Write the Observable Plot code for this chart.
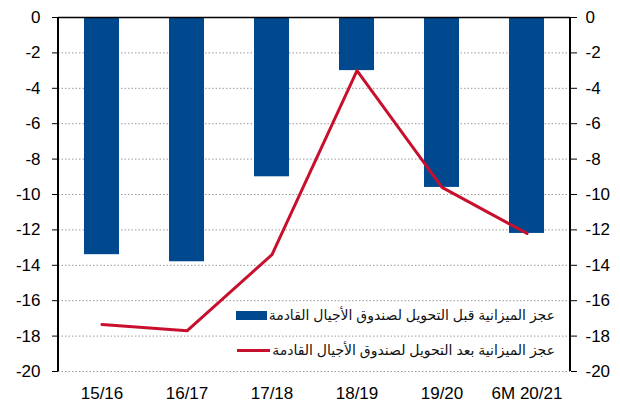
<!DOCTYPE html>
<html><head><meta charset="utf-8">
<script src="https://cdn.jsdelivr.net/npm/d3@7"></script>
<script src="https://cdn.jsdelivr.net/npm/@observablehq/plot@0.6"></script>
<style>
body{margin:0;background:#fff;font-family:"Liberation Sans",Arial,sans-serif;}
#wrap{position:relative;width:620px;height:405px;}
.leg{position:absolute;direction:rtl;font-size:14px;color:#111;white-space:nowrap;display:flex;align-items:center;font-family:"Liberation Sans","DejaVu Sans",sans-serif;}
.leg .sw{display:inline-block;margin-right:2px;}
</style></head>
<body><div id="wrap"></div>
<script>
const categories = ["15/16","16/17","17/18","18/19","19/20","6M 20/21"];
const beforeTransfer = [-13.4,-13.8,-9.0,-3.0,-9.6,-12.2];
const afterTransfer = [-17.35,-17.7,-13.4,-3.0,-9.6,-12.2];
const yTicks = [0,-2,-4,-6,-8,-10,-12,-14,-16,-18,-20];
const legendLabels = ["عجز الميزانية قبل التحويل لصندوق الأجيال القادمة","عجز الميزانية بعد التحويل لصندوق الأجيال القادمة"];
const colors = ["#00498F","#C8102E"];

const data = categories.map((c,i)=>({cat:c,before:beforeTransfer[i],after:afterTransfer[i]}));

// vertical axis lines on both sides of the plot frame, from the plot's own dimensions
function sideLines(index, scales, values, dims) {
  const g = d3.create("svg:g").attr("stroke","#000").attr("stroke-width",2);
  const x0 = dims.marginLeft, x1 = dims.width - dims.marginRight;
  const y0 = dims.marginTop, y1 = dims.height - dims.marginBottom;
  g.append("line").attr("x1",x0).attr("x2",x0).attr("y1",y0).attr("y2",y1);
  g.append("line").attr("x1",x1).attr("x2",x1).attr("y1",y0).attr("y2",y1);
  return g.node();
}

const fmt = d => String(d);

const chart = Plot.plot({
  width:620,height:405,
  marginLeft:58,marginRight:50,marginTop:17,marginBottom:34,
  style:{fontFamily:"'Liberation Sans', Arial, sans-serif",fontSize:"17px",color:"#000"},
  x:{domain:categories,paddingInner:0.59,paddingOuter:0.295,label:null},
  y:{domain:[-20,0],label:null},
  marks:[
    Plot.gridY(yTicks.filter(d=>d!==0),{stroke:"#999",strokeOpacity:1,strokeDasharray:"1.5,2"}),
    Plot.barY(data,{x:"cat",y1:0,y2:"before",fill:colors[0]}),
    Plot.line(data,{x:"cat",y:"after",stroke:colors[1],strokeWidth:3}),
    Plot.ruleY([0],{stroke:"#000",strokeWidth:1.5}),
    sideLines,
    Plot.axisY(yTicks,{anchor:"left",tickSize:6,tickPadding:12,label:null,fontSize:17,tickFormat:fmt}),
    Plot.axisY(yTicks,{anchor:"right",tickSize:6,tickPadding:9,label:null,fontSize:17,tickFormat:fmt}),
    Plot.axisX({anchor:"bottom",tickSize:0,tickPadding:15,label:null,fontSize:17,letterSpacing:"0.6px"})
  ]
});
const wrap=document.getElementById("wrap");
wrap.appendChild(chart);

const l1=document.createElement("div");
l1.className="leg";l1.style.right="65px";l1.style.top="307px";
l1.innerHTML=`<span>${legendLabels[0]}</span><span class="sw" style="width:31px;height:9px;background:${colors[0]}"></span>`;
wrap.appendChild(l1);
const l2=document.createElement("div");
l2.className="leg";l2.style.right="65px";l2.style.top="342px";
l2.innerHTML=`<span>${legendLabels[1]}</span><span class="sw" style="width:33px;height:3px;background:${colors[1]}"></span>`;
wrap.appendChild(l2);
</script></body></html>
